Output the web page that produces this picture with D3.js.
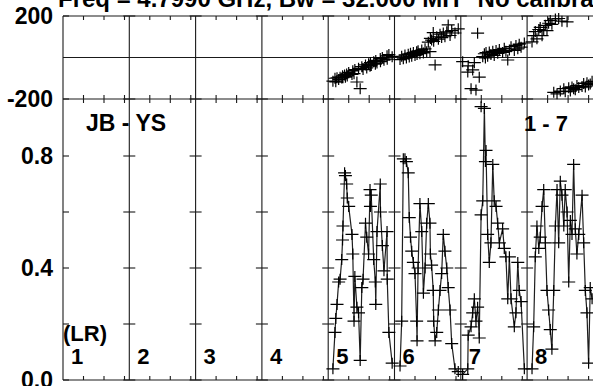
<!DOCTYPE html>
<html><head><meta charset="utf-8">
<script src="https://cdn.jsdelivr.net/npm/d3@7"></script>
<style>
html,body{margin:0;padding:0;background:#fff;overflow:hidden}
svg{display:block}
text{font-family:"Liberation Sans",Arial,Helvetica,sans-serif;font-weight:bold;fill:#000}
</style></head><body>
<svg id="c" width="593" height="386"></svg>
<script>
// ---------- texts / categories ----------
const titleText = 'Freq = 4.7990 GHz, Bw = 32.000 MH"  No calibration';
const baselineLabel = "JB - YS";
const sourceLabel = "1 - 7";
const polLabel = "(LR)";
const ifLabels = ["1","2","3","4","5","6","7","8"];
const phaseTickLabels = [200, -200];
const ampTickLabels = [0.8, 0.4, 0.0];
const ampTicks = [0.0, 0.2, 0.4, 0.6, 0.8];
const timeTicks = [1, 2, 3];

// ---------- data (time within IF panel, amplitude, phase in deg) ----------
const time5 = [0.23,0.33,0.37,0.43,0.51,0.58,0.66,0.70,0.72,0.80,0.84,0.90,0.93,1.00,1.16,1.20,1.26,1.30,1.40,1.48,1.56,1.64,1.70,1.82,1.88,1.97,2.04,2.06,2.10,2.22,2.30,2.32,2.38,2.54,2.55,2.64,2.72,2.87,2.88,2.96,3.12];
const amp5 = [0.04,0.17,0.22,0.27,0.35,0.36,0.43,0.50,0.55,0.74,0.73,0.70,0.65,0.62,0.52,0.45,0.21,0.37,0.26,0.24,0.07,0.33,0.36,0.56,0.51,0.45,0.68,0.62,0.66,0.43,0.35,0.27,0.53,0.70,0.60,0.48,0.39,0.53,0.36,0.17,0.06];
const phase5 = [-114,-100,-117,-98,-106,-95,-99,-88,-97,-84,-95,-80,-89,-72,-82,-64,-78,-58,-118,-52,-150,-44,-58,-36,-50,-30,-42,-24,-38,-20,-32,-14,-27,-5,-20,0,-13,8,-8,14,4];

const time6 = [0.27,0.35,0.43,0.51,0.58,0.67,0.72,0.78,0.84,0.92,1.00,1.08,1.10,1.15,1.24,1.33,1.41,1.49,1.57,1.65,1.73,1.75,1.81,1.89,1.91,1.98,2.06,2.14,2.22,2.30,2.38,2.46,2.55,2.62,2.71,2.79,2.95,3.11];
const amp6 = [0.05,0.21,0.79,0.79,0.78,0.74,0.58,0.51,0.46,0.42,0.38,0.21,0.14,0.40,0.63,0.53,0.31,0.40,0.56,0.63,0.56,0.45,0.41,0.32,0.21,0.14,0.17,0.25,0.32,0.38,0.52,0.46,0.40,0.33,0.25,0.13,0.04,0.03];
const phase6 = [-10,6,-6,12,-2,16,2,20,6,24,10,28,14,32,18,36,22,42,28,74,28,92,84,120,78,-36,100,88,112,96,118,100,124,157,106,130,118,138];

const time7 = [0.09,0.34,0.36,0.50,0.58,0.66,0.74,0.82,0.90,0.99,1.07,1.15,1.20,1.23,1.31,1.39,1.47,1.56,1.63,1.72,1.80,1.88,2.04,2.12,2.20,2.29,2.37,2.45,2.61,2.69,2.78,2.85,2.94,3.10];
const amp7 = [0.02,0.04,0.16,0.19,0.24,0.29,0.21,0.26,0.15,0.59,0.64,0.97,0.78,0.82,0.52,0.42,0.49,0.77,0.64,0.62,0.56,0.49,0.54,0.47,0.44,0.29,0.44,0.29,0.19,0.24,0.42,0.32,0.28,0.04];
const phase7 = [-20,-70,-40,-150,-60,-25,-157,117,-95,-237,4,18,-2,24,6,26,14,30,10,34,20,38,24,44,30,-12,36,52,34,58,42,64,50,70];

const time8 = [0.24,0.32,0.40,0.48,0.57,0.64,0.73,0.81,0.89,0.97,1.05,1.13,1.21,1.30,1.38,1.46,1.54,1.62,1.70,1.79,1.86,1.95,2.03,2.11,2.19,2.27,2.35,2.43,2.52,2.68,2.76,2.84,2.92,3.00,3.08,3.17];
const amp8 = [0.04,0.19,0.44,0.55,0.47,0.51,0.62,0.68,0.49,0.32,0.25,0.18,0.11,0.32,0.55,0.68,0.49,0.71,0.66,0.55,0.68,0.60,0.35,0.57,0.52,0.77,0.54,0.45,0.52,0.66,0.49,0.32,0.24,0.06,0.33,0.29];
const phase8 = [75,105,125,90,135,145,105,130,155,130,165,178,160,-168,186,-175,188,-162,175,-150,-165,172,-146,-162,-142,-150,-155,-135,-145,-140,-125,-142,-122,-132,-128,-115];

const series = [
  {ifn:"5", time:time5, amp:amp5, phase:phase5},
  {ifn:"6", time:time6, amp:amp6, phase:phase6},
  {ifn:"7", time:time7, amp:amp7, phase:phase7},
  {ifn:"8", time:time8, amp:amp8, phase:phase8}
];

// ---------- layout ----------
const left = 63, segW = 66.3;
const yTop = 16, yMid = 99, yBot = 380;
const svg = d3.select("#c");
svg.append("rect").attr("width",593).attr("height",386).attr("fill","#fff");

const xBand = d3.scaleBand().domain(ifLabels).range([left, left + ifLabels.length*segW]).padding(0);
const xRight = left + ifLabels.length*segW;
const tScale = d3.scaleLinear().domain([0, 3.234]).range([0, xBand.bandwidth()]);
const yPh = d3.scaleLinear().domain([-200, 200]).range([yMid, yTop]);
const yAmp = d3.scaleLinear().domain([0, 1]).range([yBot, yBot - 280]);

const lc = "#1a1a1a";
const g = svg.append("g");

// frame lines
[yTop, yMid, yBot, yPh(0)].forEach(y => {
  g.append("line").attr("x1", left).attr("x2", xRight).attr("y1", y).attr("y2", y)
    .attr("stroke", lc).attr("stroke-width", 1.1);
});
ifLabels.forEach(k => {
  const x = xBand(k);
  g.append("line").attr("x1", x).attr("x2", x).attr("y1", yTop).attr("y2", yBot)
    .attr("stroke", lc).attr("stroke-width", 1.1);
});

// time ticks
ifLabels.forEach(k => {
  timeTicks.forEach(t => {
    const x = xBand(k) + tScale(t);
    [[yTop, yTop+4],[yMid-4, yMid+4],[yBot-4, yBot]].forEach(([a,b]) => {
      g.append("line").attr("x1", x).attr("x2", x).attr("y1", a).attr("y2", b)
        .attr("stroke", lc).attr("stroke-width", 1.1);
    });
  });
});

// value ticks on each panel line
const yTickPos = ampTicks.map(v => yAmp(v)).concat(phaseTickLabels.map(v => yPh(v)));
ifLabels.forEach((k, i) => {
  const x = xBand(k);
  yTickPos.forEach(y => {
    g.append("line").attr("x1", i === 0 ? x : x - 6).attr("x2", x + 6).attr("y1", y).attr("y2", y)
      .attr("stroke", lc).attr("stroke-width", 1.1);
  });
});

// y axis labels
const fs = 23;
phaseTickLabels.forEach(v => {
  g.append("text").attr("x", 53).attr("y", yPh(v)).attr("dy", "0.36em")
    .attr("text-anchor", "end").attr("font-size", fs).text(String(v));
});
ampTickLabels.forEach(v => {
  g.append("text").attr("x", 53).attr("y", yAmp(v)).attr("dy", "0.36em")
    .attr("text-anchor", "end").attr("font-size", fs).text(v.toFixed(1));
});

// texts
g.append("text").attr("x", 58).attr("y", 7).attr("font-size", 24).text(titleText);
g.append("text").attr("x", 86).attr("y", 131).attr("font-size", 23).text(baselineLabel);
g.append("text").attr("x", 524).attr("y", 131).attr("font-size", 22).text(sourceLabel);
g.append("text").attr("x", 63).attr("y", 341).attr("font-size", 22).text(polLabel);
ifLabels.forEach(k => {
  g.append("text").attr("x", xBand(k) + 8).attr("y", 364).attr("font-size", 22).text(k);
});

// data
const cross = (x, y) => `M${x-6.5},${y}H${x+6.5}M${x},${y-5.5}V${y+5.5}`;
series.forEach(s => {
  const x0 = xBand(s.ifn);
  const pts = s.time.map((t, i) => ({x: x0 + tScale(t), ya: yAmp(s.amp[i]), yp: yPh(s.phase[i])}));
  const line = d3.line().x(d => d.x).y(d => d.ya);
  g.append("path").attr("d", line(pts)).attr("fill", "none")
    .attr("stroke", "#1e1e1e").attr("stroke-width", 1.2);
  g.append("path").attr("d", pts.map(p => cross(p.x, p.ya)).join(""))
    .attr("fill", "none").attr("stroke", "#000").attr("stroke-width", 1.2);
  g.append("path").attr("d", pts.map(p => cross(p.x, p.yp)).join(""))
    .attr("fill", "none").attr("stroke", "#000").attr("stroke-width", 1.2);
});
</script>
</body></html>
